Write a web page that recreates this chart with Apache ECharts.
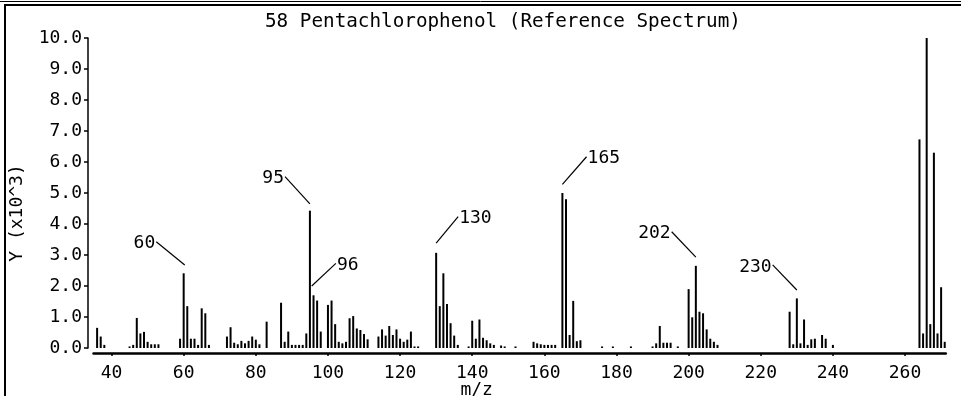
<!DOCTYPE html>
<html><head><meta charset="utf-8">
<script src="https://cdn.jsdelivr.net/npm/echarts@6/dist/echarts.min.js"></script>
<style>html,body{margin:0;padding:0;background:#fff}#c{width:961px;height:396px}</style>
</head><body><div id="c"></div>
<script>
// ---- data (intensity in thousands of counts) ----
const mz = [
  36,37,38,
  45,46,47,48,49,50,51,52,53,
  59,60,61,62,63,64,65,66,67,
  72,73,74,75,76,77,78,79,80,81,83,
  87,88,89,90,91,92,93,94,95,96,97,98,
  100,101,102,103,104,105,106,107,108,109,110,111,
  114,115,116,117,118,119,120,121,122,123,124,125,
  130,131,132,133,134,135,136,
  139,140,141,142,143,144,145,146,148,149,152,
  157,158,159,160,161,162,163,
  165,166,167,168,169,170,
  176,179,184,
  190,191,192,193,194,195,197,
  200,201,202,203,204,205,206,207,208,
  228,229,230,231,232,233,234,235,237,238,240,
  264,265,266,267,268,269,270,271
];
const intensity = [
  0.65,0.37,0.10,
  0.05,0.10,0.97,0.47,0.52,0.20,0.12,0.12,0.12,
  0.30,2.41,1.35,0.30,0.30,0.10,1.28,1.12,0.10,
  0.37,0.67,0.17,0.12,0.23,0.15,0.23,0.37,0.27,0.12,0.85,
  1.46,0.20,0.53,0.10,0.10,0.10,0.10,0.47,4.43,1.70,1.53,0.53,
  1.39,1.53,0.77,0.20,0.15,0.20,0.96,1.03,0.63,0.58,0.45,0.28,
  0.37,0.60,0.40,0.71,0.42,0.60,0.30,0.20,0.27,0.53,0.05,0.05,
  3.07,1.35,2.41,1.42,0.80,0.40,0.10,
  0.05,0.88,0.30,0.92,0.33,0.25,0.15,0.10,0.08,0.05,0.05,
  0.20,0.15,0.12,0.10,0.10,0.10,0.10,
  5.00,4.80,0.42,1.52,0.22,0.25,
  0.05,0.05,0.05,
  0.05,0.15,0.71,0.17,0.17,0.17,0.05,
  1.90,0.99,2.65,1.17,1.12,0.60,0.30,0.20,0.10,
  1.17,0.12,1.60,0.15,0.92,0.10,0.28,0.30,0.42,0.30,0.10,
  6.73,0.47,10.00,0.77,6.30,0.47,1.96,0.20
];
const xTickValues = [40,60,80,100,120,140,160,180,200,220,240,260];
const labeledPeaks = [60,95,96,130,165,202,230];
const titleText = '58 Pentachlorophenol (Reference Spectrum)';
const xName = 'm/z';
const yName = 'Y (x10^3)';

// ---- annotation leader-line layout (offsets in axis units) ----
const leader = {
  60:  {side:'left',  x0:0.3,  gap:0.27, dx:-7.9, dy:0.75},
  95:  {side:'left',  x0:0.0,  gap:0.22, dx:-6.9, dy:0.88},
  96:  {side:'right', x0:-0.5, gap:0.30, dx:6.7,  dy:0.73},
  130: {side:'right', x0:0.0,  gap:0.31, dx:6.1,  dy:0.86},
  165: {side:'right', x0:0.0,  gap:0.28, dx:6.7,  dy:0.89},
  202: {side:'left',  x0:0.0,  gap:0.28, dx:-6.7, dy:0.82},
  230: {side:'left',  x0:0.0,  gap:0.27, dx:-6.7, dy:0.81}
};

const FONT = 'DejaVu Sans Mono';
const barData = mz.map((m, i) => [m, intensity[i]]);

const lineData = [];
const textData = [];
labeledPeaks.forEach(m => {
  const v = intensity[mz.indexOf(m)];
  const L = leader[m];
  const s = [m + L.x0, v + L.gap];
  const e = [s[0] + L.dx, s[1] + L.dy];
  lineData.push([{coord: s}, {coord: e}]);
  textData.push({
    value: e,
    name: String(m),
    label: {position: L.side}
  });
});

const chart = echarts.init(document.getElementById('c'), null, {renderer: 'canvas'});
chart.setOption({
  animation: false,
  backgroundColor: '#fff',
  title: {
    text: titleText,
    left: 265, top: 12, padding: 0,
    textStyle: {fontFamily: FONT, fontSize: 19.3, fontWeight: 'normal', color: '#000'}
  },
  grid: {left: 93.5, right: 15.2, top: 38, bottom: 48, containLabel: false, outerBoundsMode: 'none'},
  xAxis: {
    type: 'value', min: 35, max: 271.3, offset: 5,
    name: xName, nameLocation: 'middle', nameGap: 28, nameMoveOverlap: false,
    nameTextStyle: {fontFamily: FONT, fontSize: 18, color: '#000', padding: [0, 86, 0, 0]},
    axisLine: {show: true, onZero: false, lineStyle: {color: '#000', width: 2.5}},
    axisTick: {show: true, length: 3, customValues: xTickValues, lineStyle: {color: '#000', width: 1.5}},
    axisLabel: {customValues: xTickValues, margin: 11, fontFamily: FONT, fontSize: 18, color: '#000'},
    splitLine: {show: false}
  },
  yAxis: {
    type: 'value', min: 0, max: 10, interval: 1, offset: 5.5,
    name: yName, nameLocation: 'middle', nameGap: 62,
    nameTextStyle: {fontFamily: FONT, fontSize: 18, color: '#000', padding: [0, 40, 0, 0]},
    axisLine: {show: true, lineStyle: {color: '#000', width: 1.5}},
    axisTick: {show: true, length: 4, lineStyle: {color: '#000', width: 1.5}},
    axisLabel: {margin: 6, fontFamily: FONT, fontSize: 18, color: '#000',
      formatter: v => v.toFixed(1)},
    splitLine: {show: false}
  },
  series: [
    {
      type: 'bar', data: barData, barWidth: 2, clip: false,
      itemStyle: {color: '#000'},
      markLine: {
        silent: true, symbol: ['none', 'none'], animation: false,
        lineStyle: {color: '#000', width: 1.2, type: 'solid'},
        label: {show: false},
        emphasis: {disabled: true},
        data: lineData
      }
    },
    {
      type: 'scatter', data: textData, symbolSize: 0, silent: true,
      itemStyle: {opacity: 1, color: '#000'},
      label: {show: true, formatter: p => p.name, distance: 1, offset: [0, 2],
        fontFamily: FONT, fontSize: 18, color: '#000', opacity: 1}
    }
  ],
  graphic: [
    {type: 'line', shape: {x1: 0, y1: 1.5, x2: 961, y2: 1.5}, style: {stroke: '#000', lineWidth: 1}},
    {type: 'line', shape: {x1: 4, y1: 5, x2: 961, y2: 5}, style: {stroke: '#000', lineWidth: 2}},
    {type: 'line', shape: {x1: 5, y1: 4, x2: 5, y2: 396}, style: {stroke: '#000', lineWidth: 2}}
  ]
});
</script></body></html>
